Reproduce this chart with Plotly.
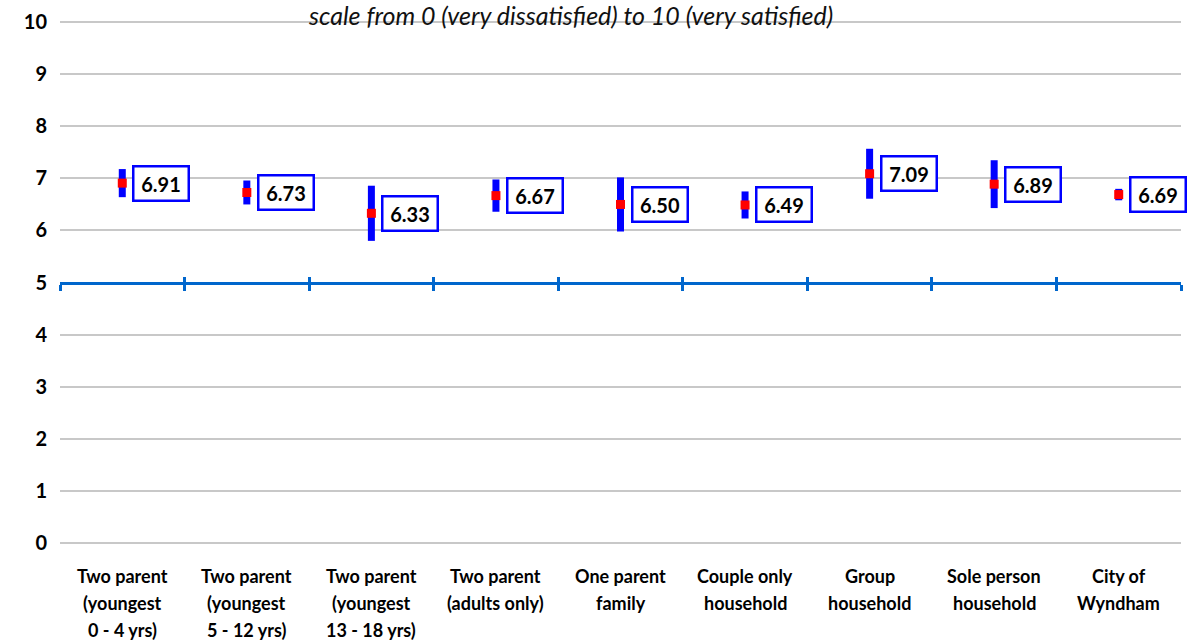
import plotly.graph_objects as go

categories = [
    "Two parent<br>(youngest<br>0 - 4 yrs)",
    "Two parent<br>(youngest<br>5 - 12 yrs)",
    "Two parent<br>(youngest<br>13 - 18 yrs)",
    "Two parent<br>(adults only)",
    "One parent<br>family",
    "Couple only<br>household",
    "Group<br>household",
    "Sole person<br>household",
    "City of<br>Wyndham",
]
means = [6.91, 6.73, 6.33, 6.67, 6.50, 6.49, 7.09, 6.89, 6.69]
ci_half = [0.27, 0.23, 0.53, 0.31, 0.52, 0.26, 0.48, 0.46, 0.11]
y_ticks = list(range(0, 11))
subtitle = "scale from 0 (very dissatisfied) to 10 (very satisfied)"

FONT = "Lato"
AXIS_BLUE = "#0066CC"

fig = go.Figure()
fig.add_trace(go.Scatter(
    x=categories, y=means, mode="markers",
    marker=dict(symbol="square", size=9, color="#FF0000"),
    error_y=dict(type="data", array=ci_half, visible=True,
                 color="#0000FF", thickness=7, width=0),
    showlegend=False, hoverinfo="skip",
))
# invisible helper traces so the crossing axis (at 5) gets drawn
for ax in ("x2", "x3"):
    fig.add_trace(go.Scatter(
        x=categories, y=means, xaxis=ax, mode="markers",
        marker=dict(opacity=0), showlegend=False, hoverinfo="skip",
    ))

for c, m in zip(categories, means):
    fig.add_annotation(
        x=c, y=m, xref="x", yref="y", text=f"<b>{m:.2f}</b>",
        showarrow=False, xanchor="left", yanchor="middle", xshift=10,
        font=dict(family=FONT, size=20, color="#000000"),
        bgcolor="#FFFFFF", bordercolor="#0000FF", borderwidth=2.5,
        borderpad=1, width=51, height=30, align="center",
    )

# category labels, one annotation per line for Excel-like line spacing
for c in categories:
    for i, line in enumerate(c.split("<br>")):
        fig.add_annotation(
            x=c, y=0, xref="x", yref="paper", yshift=-31 - 27 * i,
            text=f"<b>{line}</b>", showarrow=False,
            xanchor="center", yanchor="middle",
            font=dict(family=FONT, size=18, color="#000000"),
        )

fig.add_annotation(
    x=0.455, y=1, xref="paper", yref="paper", yshift=5,
    text=f"<i>{subtitle}</i>", showarrow=False,
    xanchor="center", yanchor="middle",
    font=dict(family=FONT, size=25, color="#111111"),
)

common_x = dict(
    type="category", categoryarray=categories, categoryorder="array",
    range=[-0.5, len(categories) - 0.5],
)

fig.update_layout(
    width=1191, height=641,
    margin=dict(l=60, r=10, t=20, b=96),
    paper_bgcolor="#FFFFFF", plot_bgcolor="#FFFFFF",
    font=dict(family=FONT, color="#000000"),
    xaxis=dict(
        **common_x,
        showgrid=False, showline=False, zeroline=False,
        ticks="", showticklabels=False,
    ),
    yaxis=dict(
        range=[-0.045, 10.045], tickmode="array", tickvals=y_ticks,
        ticktext=[f"<b>{v}</b>" for v in y_ticks],
        showgrid=True, gridcolor="#C8C8C8", gridwidth=1.5,
        zeroline=False, showline=False, ticks="",
        ticklabelstandoff=12,
        tickfont=dict(family=FONT, size=20, color="#000000"),
    ),
    xaxis2=dict(
        **common_x,
        overlaying="x", anchor="free", position=0.5,
        tickson="boundaries",
        showline=True, linecolor=AXIS_BLUE, linewidth=3,
        ticks="outside", ticklen=6, tickwidth=3, tickcolor=AXIS_BLUE,
        showticklabels=False, showgrid=False, zeroline=False,
    ),
    xaxis3=dict(
        **common_x,
        overlaying="x", anchor="free", position=0.5,
        tickson="boundaries",
        showline=False,
        ticks="inside", ticklen=6, tickwidth=3, tickcolor=AXIS_BLUE,
        showticklabels=False, showgrid=False, zeroline=False,
    ),
)

fig.write_html(
    "out.html",
    config={"displayModeBar": False},
    post_script="document.body.style.margin='0px';",
)
